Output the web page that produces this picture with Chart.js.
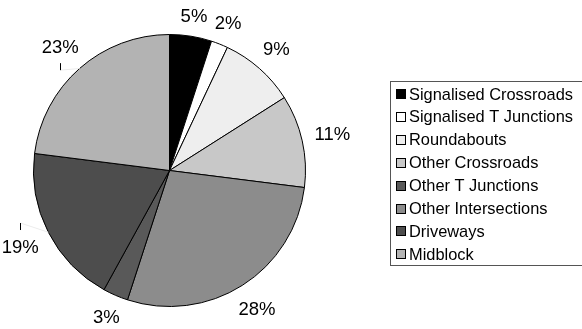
<!DOCTYPE html>
<html>
<head>
<meta charset="utf-8">
<script src="https://cdn.jsdelivr.net/npm/chart.js@4"></script>
<style>
  html, body { margin: 0; padding: 0; background: #fff; }
  #wrap { width: 582px; height: 329px; position: relative; overflow: hidden; }
</style>
</head>
<body>
<div id="wrap"><canvas id="c" width="582" height="329"></canvas></div>
<script>
// Crash locations, share of crashes (%), in the order slices run clockwise from 12 o'clock
const categories = [
  'Signalised Crossroads',
  'Signalised T Junctions',
  'Roundabouts',
  'Other Crossroads',
  'Other Intersections',
  'Other T Junctions',
  'Driveways',
  'Midblock'
];
const shares = [5, 2, 9, 11, 28, 3, 19, 23];
const fills = ['#000000', '#ffffff', '#eeeeee', '#c8c8c8', '#8c8c8c', '#595959', '#4d4d4d', '#b3b3b3'];

// Order in which the key lists the categories
const legendOrder = [
  'Signalised Crossroads',
  'Signalised T Junctions',
  'Roundabouts',
  'Other Crossroads',
  'Other T Junctions',
  'Other Intersections',
  'Driveways',
  'Midblock'
];

const FONT = '"Liberation Sans", Arial, sans-serif';

// Percentage labels placed just outside each slice
const sliceLabels = {
  id: 'sliceLabels',
  afterDatasetsDraw(chart) {
    const ctx = chart.ctx;
    const meta = chart.getDatasetMeta(0);
    const values = chart.data.datasets[0].data;
    ctx.save();
    ctx.font = '18.5px ' + FONT;
    ctx.fillStyle = '#000';
    ctx.textAlign = 'center';
    ctx.textBaseline = 'middle';
    meta.data.forEach((arc, i) => {
      const p = arc.getProps(['x', 'y', 'startAngle', 'endAngle', 'outerRadius'], true);
      const mid = (p.startAngle + p.endAngle) / 2;
      const dx = Math.cos(mid), dy = Math.sin(mid);
      const text = values[i] + '%';
      const w = ctx.measureText(text).width;
      const h = 13;
      const pad = 12 + Math.abs(dx) * w / 2 + Math.abs(dy) * h / 2;
      const r = p.outerRadius + pad;
      const lx = p.x + dx * r;
      const ly = p.y + dy * r;
      ctx.fillText(text, lx, ly + 1);
      // short leader tick for labels out on the left side
      if (dx < -0.5) {
        const dir = dy < 0 ? 1 : -1;
        const y0 = ly + dir * (h / 2 + 10);
        const y1 = y0 + dir * 7;
        const ex = p.x + dx * p.outerRadius, ey = p.y + dy * p.outerRadius;
        ctx.strokeStyle = '#ececec';
        ctx.lineWidth = 1;
        ctx.beginPath();
        ctx.moveTo(Math.round(lx) + 0.5, y1);
        ctx.lineTo(ex, ey);
        ctx.stroke();
        ctx.strokeStyle = '#000';
        ctx.beginPath();
        ctx.moveTo(Math.round(lx) + 0.5, y0);
        ctx.lineTo(Math.round(lx) + 0.5, y1);
        ctx.stroke();
      }
    });
    ctx.restore();
  }
};

// Boxed key on the right
const boxedKey = {
  id: 'boxedKey',
  afterDraw(chart) {
    const ctx = chart.ctx;
    const labels = chart.data.labels;
    const colors = chart.data.datasets[0].backgroundColor;
    const left = 390, top = 81, rowH = 22.9;
    ctx.save();
    ctx.fillStyle = '#fff';
    ctx.fillRect(left, top, 240, 184);
    ctx.strokeStyle = '#555';
    ctx.lineWidth = 1;
    ctx.strokeRect(left + 0.5, top + 0.5, 240, 184);
    ctx.font = '16.4px ' + FONT;
    ctx.textAlign = 'left';
    ctx.textBaseline = 'middle';
    legendOrder.forEach((name, k) => {
      const idx = labels.indexOf(name);
      const cy = top + 13 + k * rowH;
      const sy = Math.round(cy - 5);
      ctx.fillStyle = colors[idx];
      ctx.fillRect(396, sy, 10, 10);
      ctx.strokeStyle = '#000';
      ctx.strokeRect(396.5, sy + 0.5, 9, 9);
      ctx.fillStyle = '#000';
      ctx.fillText(name, 409, cy + 1);
    });
    ctx.restore();
  }
};

new Chart(document.getElementById('c'), {
  type: 'pie',
  data: {
    labels: categories,
    datasets: [{
      data: shares,
      backgroundColor: fills,
      borderColor: '#000',
      borderWidth: 1
    }]
  },
  options: {
    responsive: false,
    animation: false,
    events: [],
    layout: { padding: { left: 33, top: 34, right: 276, bottom: 22 } },
    plugins: {
      legend: { display: false },
      tooltip: { enabled: false }
    }
  },
  plugins: [sliceLabels, boxedKey]
});
</script>
</body>
</html>
